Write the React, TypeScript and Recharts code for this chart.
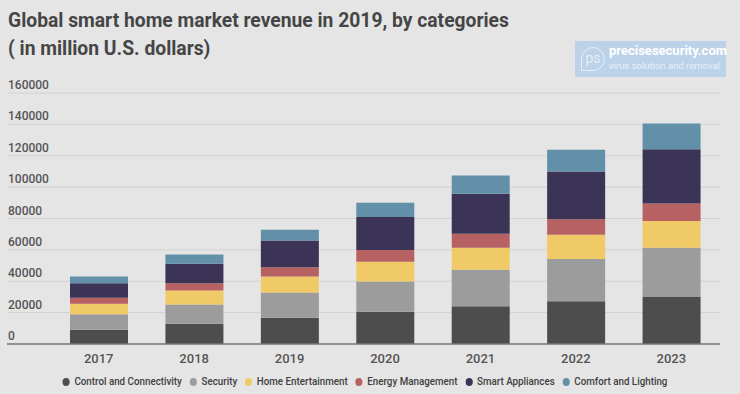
import React from 'react';
import { Bar, BarChart, CartesianGrid, XAxis, YAxis } from 'recharts';

const years = ['2017', '2018', '2019', '2020', '2021', '2022', '2023'];
const controlConnectivity = [9100, 12900, 16700, 20500, 24100, 27200, 30200];
const security = [9800, 12300, 16100, 19300, 23200, 27000, 31200];
const homeEntertainment = [6800, 8900, 10200, 12700, 14000, 15500, 17000];
const energyManagement = [3800, 4700, 5900, 7500, 8900, 9800, 11100];
const smartAppliances = [9300, 12400, 17000, 21000, 25500, 30400, 34600];
const comfortLighting = [4300, 5900, 7000, 9100, 11700, 14000, 16400];
const yTicks = [0, 20000, 40000, 60000, 80000, 100000, 120000, 140000, 160000];

const series = [
  { key: 'control', name: 'Control and Connectivity', color: '#4d4d4d', values: controlConnectivity },
  { key: 'security', name: 'Security', color: '#9c9c9c', values: security },
  { key: 'entertainment', name: 'Home Entertainment', color: '#f0ca66', values: homeEntertainment },
  { key: 'energy', name: 'Energy Management', color: '#b76163', values: energyManagement },
  { key: 'appliances', name: 'Smart Appliances', color: '#3b3457', values: smartAppliances },
  { key: 'comfort', name: 'Comfort and Lighting', color: '#6290a9', values: comfortLighting },
];

const data = years.map((year, i) => {
  const row: Record<string, string | number> = { year };
  series.forEach((s) => {
    row[s.key] = s.values[i];
  });
  return row;
});

const font = 'Roboto, "Noto Sans", sans-serif';

function YTick(props: any) {
  const { y, payload } = props;
  return (
    <text x={8} y={y - 4} fontSize={12} fontWeight={500} fill="#555" fontFamily={font} textAnchor="start">
      {payload.value}
    </text>
  );
}

export default function App() {
  return (
    <div
      style={{
        position: 'absolute',
        left: 0,
        top: 0,
        width: 740,
        height: 394,
        background: '#e5e5e5',
        fontFamily: font,
        overflow: 'hidden',
      }}
    >
      <div
        style={{
          position: 'absolute',
          left: 8,
          top: 7,
          fontSize: 19.3,
          fontWeight: 700,
          color: '#454545',
          lineHeight: '28px',
        }}
      >
        Global smart home market revenue in 2019, by categories
        <br />( in million U.S. dollars)
      </div>

      <div
        style={{
          position: 'absolute',
          left: 575,
          top: 41,
          width: 151,
          height: 36,
          background: '#bcd2e8',
          color: '#fff',
        }}
      >
        <div
          style={{
            position: 'absolute',
            left: 6,
            top: 6,
            width: 22,
            height: 22,
            borderRadius: '50% 50% 50% 0',
            border: '1px solid #e6eef7',
            fontSize: 14,
            lineHeight: '20px',
            textAlign: 'center',
            color: '#e6eef7',
          }}
        >
          ps
        </div>
        <div style={{ position: 'absolute', left: 34, top: 2, fontSize: 13, fontWeight: 700 }}>precisesecurity.com</div>
        <div style={{ position: 'absolute', left: 34, top: 19, fontSize: 9.5, color: '#e8f0f8' }}>virus solution and removal</div>
      </div>

      <BarChart
        width={740}
        height={394}
        data={data}
        margin={{ top: 93, right: 20, left: 7, bottom: 20 }}
        style={{ position: 'absolute', left: 0, top: 0 }}
      >
        <CartesianGrid vertical={false} stroke="#d2d2d2" />
        <XAxis
          dataKey="year"
          height={30}
          padding={{ left: 44, right: 1 }}
          axisLine={{ stroke: '#777', strokeWidth: 1.5 }}
          tickLine={false}
          tick={{ fontSize: 13, fontWeight: 500, fill: '#555', fontFamily: font }}
          tickMargin={4}
        />
        <YAxis
          mirror
          domain={[0, 160000]}
          ticks={yTicks}
          axisLine={false}
          tickLine={false}
          tick={<YTick />}
        />
        {series.map((s) => (
          <Bar key={s.key} dataKey={s.key} name={s.name} stackId="a" fill={s.color} barSize={58} isAnimationActive={false} />
        ))}
      </BarChart>

      <div
        style={{
          position: 'absolute',
          left: 0,
          width: 740,
          top: 374,
          display: 'flex',
          justifyContent: 'center',
          gap: 9,
          paddingRight: 10,
          boxSizing: 'border-box',
          fontSize: 11,
          fontWeight: 500,
          color: '#404040',
          transform: 'scaleX(0.89)',
          transformOrigin: '366px 0',
        }}
      >
        {series.map((s) => (
          <div key={s.key} style={{ display: 'flex', alignItems: 'center', gap: 5, lineHeight: '16px' }}>
            <span style={{ width: 8, height: 8, borderRadius: 4, background: s.color, display: 'inline-block' }} />
            <span>{s.name}</span>
          </div>
        ))}
      </div>
    </div>
  );
}
